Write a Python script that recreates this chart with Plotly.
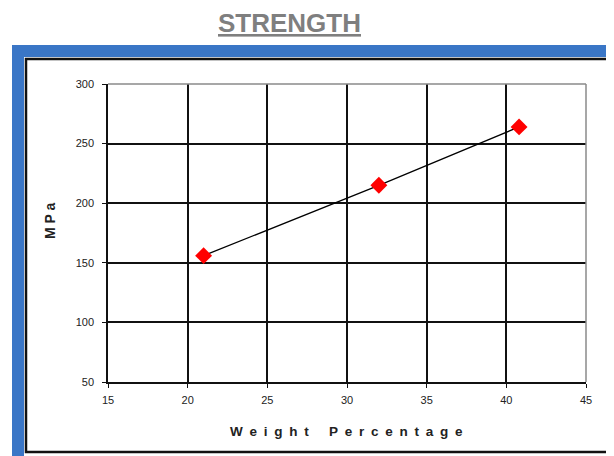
import plotly.graph_objects as go

weight_pct = [21.0, 32.0, 40.8]
strength_mpa = [156, 215, 264]
x_ticks = [15, 20, 25, 30, 35, 40, 45]
y_ticks = [50, 100, 150, 200, 250, 300]

W, H = 614, 456
OFF = 8  # page offset of the figure in the browser
L, R, T, B = 108 - OFF, 586 - OFF, 84 - OFF, 382 - OFF  # plot area pixel bounds
pw, ph = R - L, B - T


def px(x):
    return (x - OFF - L) / pw


def py(y):
    return (B - (y - OFF)) / ph


fig = go.Figure()
fig.add_trace(go.Scatter(
    x=weight_pct, y=strength_mpa, mode="lines+markers",
    line=dict(color="black", width=1.3),
    marker=dict(symbol="diamond", size=13, color="#ff0000"),
    showlegend=False, cliponaxis=False,
))

shapes = [
    dict(type="rect", xref="paper", yref="paper", x0=px(12), x1=px(613), y0=py(45), y1=py(480),
         fillcolor="#3a76c6", line=dict(width=0), layer="below"),
    dict(type="rect", xref="paper", yref="paper", x0=px(24), x1=px(640), y0=py(57), y1=py(480),
         fillcolor="white", line=dict(width=0), layer="below"),
    dict(type="rect", xref="paper", yref="paper", x0=px(26), x1=px(610), y0=py(59), y1=py(452),
         fillcolor="white", line=dict(color="#111111", width=2.5), layer="below"),
    dict(type="line", xref="paper", yref="paper", x0=0, x1=1, y0=1, y1=1,
         line=dict(color="#8a8a8a", width=1.5), layer="above"),
    dict(type="line", xref="paper", yref="paper", x0=1, x1=1, y0=0, y1=1,
         line=dict(color="#8a8a8a", width=1.5), layer="above"),
]

annotations = [
    dict(text="<b><u>STRENGTH</u></b>", xref="paper", yref="paper", x=px(289), y=py(23),
         showarrow=False, font=dict(family="Liberation Sans", size=26, color="#7f7f7f"),
         xanchor="center", yanchor="middle"),
    dict(text="<b>M P a</b>", xref="paper", yref="paper", x=px(50), y=py(221),
         showarrow=False, textangle=-90, font=dict(family="Liberation Sans", size=14, color="#222"),
         xanchor="center", yanchor="middle"),
    dict(text="<b>W\u2002e\u2002i\u2002g\u2002h\u2002t\u2003\u2002P\u2002e\u2002r\u2002c\u2002e\u2002n\u2002t\u2002a\u2002g\u2002e</b>",
         xref="paper", yref="paper", x=px(346), y=py(431),
         showarrow=False, font=dict(family="Liberation Sans", size=13.5, color="#222"),
         xanchor="center", yanchor="middle"),
]

tick_font = dict(family="Liberation Sans", size=11, color="#222")
fig.update_layout(
    width=W, height=H,
    margin=dict(l=L, r=W - R, t=T, b=H - B, pad=0),
    paper_bgcolor="white", plot_bgcolor="white",
    shapes=shapes, annotations=annotations,
    xaxis=dict(range=[15, 45], tickvals=x_ticks, showgrid=True, gridcolor="#111111", gridwidth=1.5,
               zeroline=False, showline=True, linecolor="#111111", linewidth=1.5,
               ticks="outside", ticklen=4, tickcolor="#111111", tickfont=tick_font,
               ticklabelstandoff=3),
    yaxis=dict(range=[50, 300], tickvals=y_ticks, showgrid=True, gridcolor="#111111", gridwidth=1.5,
               zeroline=False, showline=True, linecolor="#111111", linewidth=1.5,
               ticks="outside", ticklen=4, tickcolor="#111111", tickfont=tick_font,
               ticklabelstandoff=6),
)

fig.write_html("out.html")
